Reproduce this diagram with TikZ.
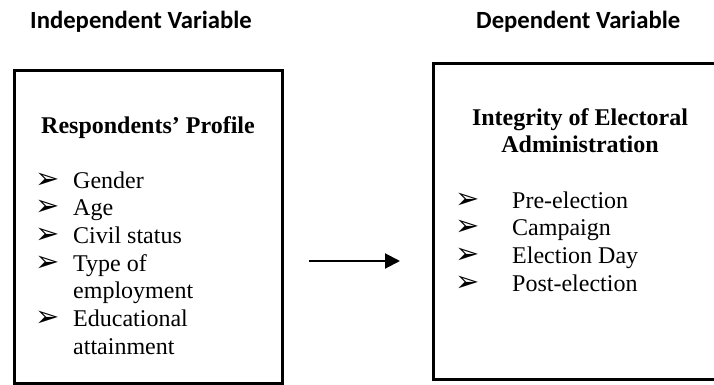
\documentclass[tikz,border=0pt]{standalone}
\usepackage{fontspec}
\setmainfont{Liberation Serif}
\newfontfamily\headfont{Carlito}
\newfontfamily\dingfont{DejaVu Sans}
\usetikzlibrary{arrows.meta,positioning}
\newcommand{\arrbul}{{\dingfont\fontsize{29}{29}\selectfont ➢}}
\tikzset{
  varhead/.style={font=\headfont\bfseries\fontsize{24.7}{30}\selectfont, inner sep=0pt, anchor=base west},
  varbox/.style={draw, line width=3pt},
  boxtitle/.style={font=\bfseries\fontsize{24}{27}\selectfont, inner sep=0pt, anchor=base},
  itemlist/.style={font=\fontsize{24}{27.7}\selectfont, inner sep=0pt, anchor=base west},
}

\begin{document}
\begin{tikzpicture}[x=1pt, y=-1pt, >={Triangle[length=15pt,width=15pt]}]
\useasboundingbox (0,0) rectangle (714,385);
% headings
\node[varhead] (ivhead) at (30,29) {Independent Variable};
\node[varhead] (dvhead) at (476,29) {Dependent Variable};
% the two boxes
\draw[varbox] (14,71) rectangle (282,383);
\draw[varbox] (433,64) rectangle (727,379);
% independent variable
\node[boxtitle] (ivtitle) at (148,133) {Respondents' Profile};
\node[itemlist] (ivlist) at (35,188) {\begin{tabular}[t]{@{}p{38pt}@{}l@{}}
  \arrbul & Gender\\
  \arrbul & Age\\
  \arrbul & Civil status\\
  \arrbul & Type of\\
          & employment\\
  \arrbul & Educational\\
          & attainment
\end{tabular}};
% dependent variable
\node[boxtitle] (dvtitle) at (580,125) {\begin{tabular}[t]{@{}c@{}}
  Integrity of Electoral\\ Administration
\end{tabular}};
\node[itemlist] (dvlist) at (455,208) {\begin{tabular}[t]{@{}p{57pt}@{}l@{}}
  \arrbul & Pre-election\\
  \arrbul & Campaign\\
  \arrbul & Election Day\\
  \arrbul & Post-election
\end{tabular}};
% relation
\coordinate (arrtail) at (309,261);
\coordinate (arrhead) at (400,261);
\draw[->, line width=2pt] (arrtail) -- (arrhead);
\end{tikzpicture}
\end{document}
